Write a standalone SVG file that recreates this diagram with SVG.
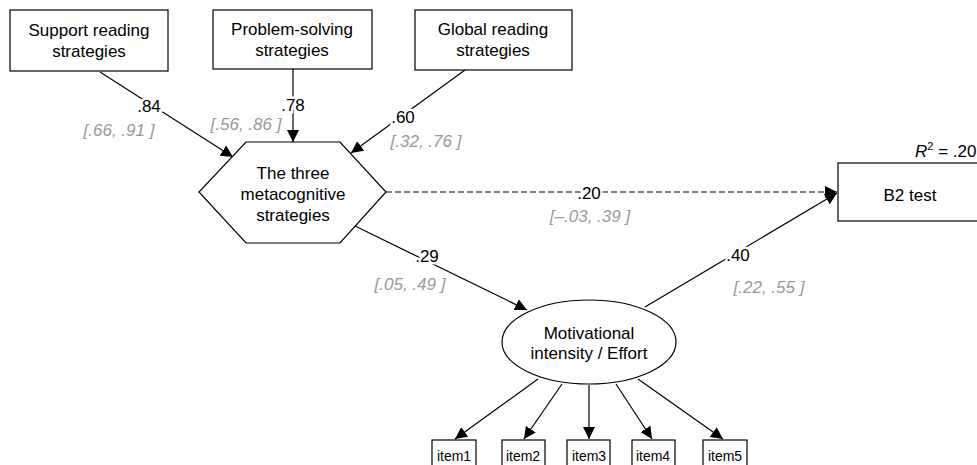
<svg xmlns="http://www.w3.org/2000/svg" width="977" height="465" viewBox="0 0 977 465">
<defs>
<marker id="arr" viewBox="0 0 10 10" refX="10" refY="5" markerWidth="12" markerHeight="12" markerUnits="userSpaceOnUse" orient="auto">
<path d="M0,0 L10,5 L0,10 z" fill="#000"/>
</marker>
<style>
.box{fill:#fff;stroke:#000;stroke-width:1.2}
.t{font-family:"Liberation Sans",Arial,sans-serif;font-size:17px;fill:#000;text-anchor:middle;dominant-baseline:central}
.it{font-family:"Liberation Sans",Arial,sans-serif;font-size:14px;fill:#000;text-anchor:middle;dominant-baseline:central}
.lab{font-family:"Liberation Sans",Arial,sans-serif;font-size:17px;fill:#000;text-anchor:middle;dominant-baseline:central;stroke:#fff;stroke-width:5;paint-order:stroke}
.ci{font-family:"Liberation Sans",Arial,sans-serif;font-size:17px;fill:#999;font-style:italic;text-anchor:middle;dominant-baseline:central}
.ln{stroke:#000;stroke-width:1.2;fill:none;marker-end:url(#arr)}
</style>
</defs>
<rect width="977" height="465" fill="#fff"/>
<g id="connectors">
<line class="ln" x1="100" y1="72" x2="233" y2="157"/>
<line class="ln" x1="293" y1="69" x2="293" y2="142"/>
<line class="ln" x1="465" y1="70" x2="351" y2="153"/>
<line class="ln" x1="386" y1="192" x2="837" y2="192" stroke-dasharray="6,3" stroke-width="2"/>
<line class="ln" x1="355" y1="226" x2="527" y2="310"/>
<line class="ln" x1="645" y1="307" x2="837" y2="193"/>
<line class="ln" x1="538" y1="379" x2="455" y2="439"/>
<line class="ln" x1="562" y1="384" x2="524" y2="439"/>
<line class="ln" x1="589" y1="385" x2="589" y2="439"/>
<line class="ln" x1="616" y1="384" x2="652" y2="439"/>
<line class="ln" x1="638" y1="379" x2="723" y2="439"/>
<text class="lab" x="149" y="106">.84</text>
<text class="ci" x="119" y="130">[.66, .91 ]</text>
<text class="lab" x="293" y="105">.78</text>
<text class="ci" x="246" y="124">[.56, .86 ]</text>
<text class="lab" x="403" y="117">.60</text>
<text class="ci" x="426" y="141">[.32, .76 ]</text>
<text class="lab" x="589" y="193">.20</text>
<text class="ci" x="590" y="216">[–.03, .39 ]</text>
<text class="lab" x="427" y="256">.29</text>
<text class="ci" x="410" y="284">[.05, .49 ]</text>
<text class="lab" x="738" y="255">.40</text>
<text class="ci" x="769" y="287">[.22, .55 ]</text>
</g>
<g id="support">
<rect class="box" x="10" y="10" width="158" height="61"/>
<text class="t" x="89" y="30">Support reading</text>
<text class="t" x="89" y="51">strategies</text>
</g>
<g id="problem">
<rect class="box" x="213" y="10" width="159" height="59"/>
<text class="t" x="292" y="29">Problem-solving</text>
<text class="t" x="292" y="50">strategies</text>
</g>
<g id="global">
<rect class="box" x="415" y="10" width="157" height="60"/>
<text class="t" x="493" y="29">Global reading</text>
<text class="t" x="493" y="50">strategies</text>
</g>
<g id="meta">
<polygon class="box" points="246,142 340,142 386,192 340,243 246,243 199,192"/>
<text class="t" x="293" y="173">The three</text>
<text class="t" x="293" y="194">metacognitive</text>
<text class="t" x="293" y="215">strategies</text>
</g>
<g id="b2">
<rect class="box" x="838" y="163" width="150" height="58"/>
<text class="t" x="910" y="195">B2 test</text>
<text font-family="Liberation Sans, Arial, sans-serif" font-size="17" x="915" y="157"><tspan font-style="italic">R</tspan><tspan font-size="11" dy="-7">2</tspan><tspan dy="7"> = .20</tspan></text>
</g>
<g id="motiv">
<ellipse class="box" cx="589" cy="342" rx="87" ry="42"/>
<text class="t" x="589" y="333">Motivational</text>
<text class="t" x="589" y="353">intensity / Effort</text>
</g>
<g id="item1"><rect class="box" x="432" y="440" width="44" height="35"/><text class="it" x="454" y="456">item1</text></g>
<g id="item2"><rect class="box" x="502" y="440" width="43" height="35"/><text class="it" x="523" y="456">item2</text></g>
<g id="item3"><rect class="box" x="567" y="440" width="43" height="35"/><text class="it" x="589" y="456">item3</text></g>
<g id="item4"><rect class="box" x="632" y="440" width="43" height="35"/><text class="it" x="653" y="456">item4</text></g>
<g id="item5"><rect class="box" x="703" y="440" width="44" height="35"/><text class="it" x="725" y="456">item5</text></g>
</svg>
